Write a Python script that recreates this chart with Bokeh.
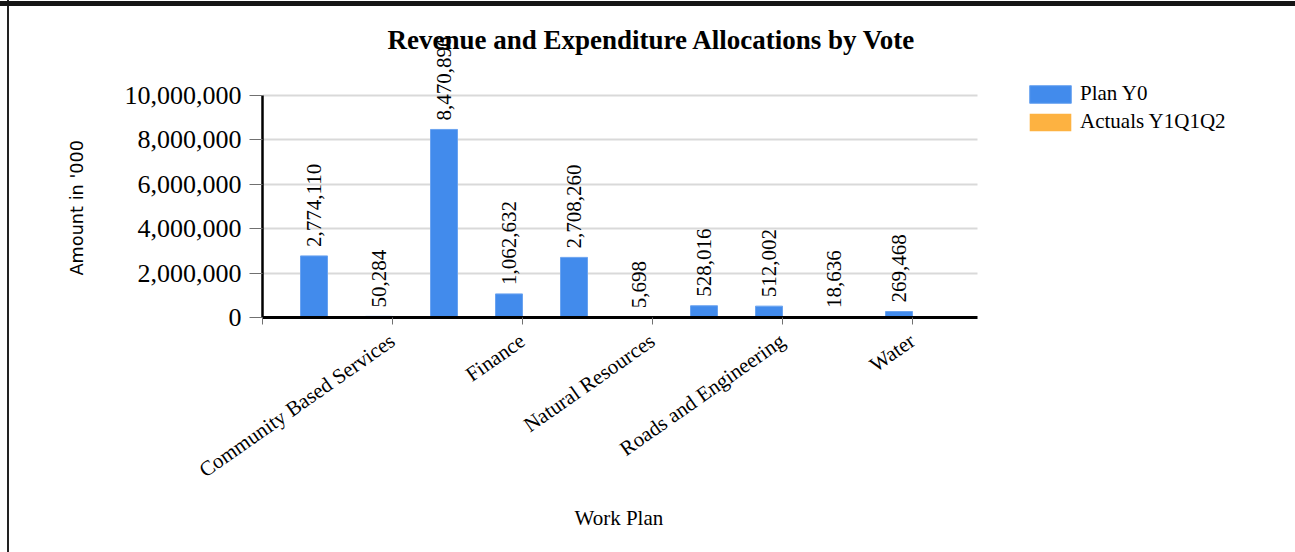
from bokeh.plotting import figure
from bokeh.models import (ColumnDataSource, Range1d, FixedTicker, Legend,
                          LegendItem, NumeralTickFormatter, Title)
from bokeh.core.properties import value
from bokeh.transform import dodge
from bokeh.embed import file_html
from bokeh.resources import INLINE
import math

# ---- data ----
votes = ["Administration", "Community Based Services", "Education", "Finance",
         "Health", "Natural Resources", "Production and Marketing",
         "Roads and Engineering", "Statutory Bodies", "Water"]
plan_y0 = [2774110, 50284, 8470896, 1062632, 2708260, 5698, 528016, 512002, 18636, 269468]
actuals_y1q1q2 = [0, 0, 0, 0, 0, 0, 0, 0, 0, 0]
y_ticks = [0, 2000000, 4000000, 6000000, 8000000, 10000000]

SERIF = "Liberation Serif"
BLUE = "#428BEC"
ORANGE = "#FDB241"

idx = list(range(len(votes)))
src = ColumnDataSource(dict(
    idx=idx,
    plan=plan_y0,
    actual=actuals_y1q1q2,
    plan_lbl=["{:,}".format(v) for v in plan_y0],
))

# plotting frame extends to the right so that the legend sits inside it;
# the axis / grid are limited to the category span with bounds
x_lo, x_hi = -1, len(votes)
p = figure(width=1295, height=552, output_backend="svg", toolbar_location=None,
           x_range=Range1d(x_lo, 14.815), y_range=Range1d(0, 12658000),
           min_border_left=262, min_border_right=5, min_border_top=36,
           min_border_bottom=235)
p.styles = {"background": "linear-gradient(#151515,#151515) 0 1px / 100% 5px no-repeat, "
                          "linear-gradient(#222222,#222222) 7px 0 / 2px 100% no-repeat, #ffffff"}
p.border_fill_alpha = 0
p.background_fill_alpha = 0
p.outline_line_color = None

bw = 0.415
r_plan = p.vbar(x=dodge("idx", -bw / 2, range=p.x_range), top="plan", width=bw, source=src,
                fill_color=BLUE, line_color="#6aa3f0", line_width=1)
r_act = p.vbar(x=dodge("idx", bw / 2, range=p.x_range), top="actual", width=bw, source=src,
               fill_color=ORANGE, line_color=None)

p.text(x=dodge("idx", -bw / 2, range=p.x_range), y="plan", text="plan_lbl", source=src,
       angle=math.pi / 2, text_align="left", text_baseline="middle", y_offset=-9,
       text_font=value(SERIF), text_font_size="21px", text_color="black")

# grid
p.xgrid.visible = False
p.ygrid.ticker = FixedTicker(ticks=y_ticks)
p.ygrid.cross_bounds = (x_lo, x_hi)
p.ygrid.grid_line_color = "#d9d9d9"
p.ygrid.grid_line_width = 2

# x axis
xa = p.xaxis[0]
xa.bounds = (x_lo, x_hi)
xa.ticker = FixedTicker(ticks=[-1] + idx[1::2])
over = {-1: ""}
for i in idx[1::2]:
    over[i] = votes[i]
xa.major_label_overrides = over
xa.major_label_orientation = math.radians(35)
xa.major_label_text_font = SERIF
xa.major_label_text_font_size = "21px"
xa.major_label_text_color = "black"
xa.major_label_standoff = 14
xa.axis_line_color = "black"
xa.axis_line_width = 3
xa.major_tick_line_color = "#707070"
xa.major_tick_out = 7
xa.major_tick_in = 0
xa.minor_tick_line_color = None

# y axis
ya = p.yaxis[0]
ya.ticker = FixedTicker(ticks=y_ticks)
ya.formatter = NumeralTickFormatter(format="0,0")
ya.bounds = (0, 10000000)
ya.major_label_text_font = SERIF
ya.major_label_text_font_size = "26px"
ya.major_label_text_color = "black"
ya.major_label_standoff = 8
ya.axis_line_color = "black"
ya.axis_line_width = 2.5
ya.major_tick_line_color = "#707070"
ya.major_tick_out = 13
ya.major_tick_in = 0
ya.minor_tick_line_color = None

# titles
p.add_layout(Title(text="Revenue and Expenditure Allocations by Vote", align="left",
                   offset=125, standoff=-36, vertical_align="bottom",
                   text_font=SERIF, text_font_size="27px", text_font_style="bold",
                   text_color="black"), "above")
p.add_layout(Title(text="Amount in '000", align="left", offset=42, standoff=70,
                   text_font="DejaVu Sans", text_font_size="17.7px",
                   text_font_style="normal", text_color="black"), "left")
p.add_layout(Title(text="Work Plan", align="left", offset=312, standoff=18,
                   text_font=SERIF, text_font_size="21px",
                   text_font_style="normal", text_color="black"), "below")

legend = Legend(items=[LegendItem(label="Plan Y0", renderers=[r_plan]),
                       LegendItem(label="Actuals Y1Q1Q2", renderers=[r_act])],
                location=(762, 183), padding=0, margin=0, spacing=3,
                glyph_width=52, glyph_height=22, label_standoff=4,
                label_text_font=SERIF, label_text_font_size="21px",
                label_text_color="black",
                border_line_color=None, background_fill_alpha=0)
p.add_layout(legend)

open("out.html", "w").write(file_html(p, INLINE))
